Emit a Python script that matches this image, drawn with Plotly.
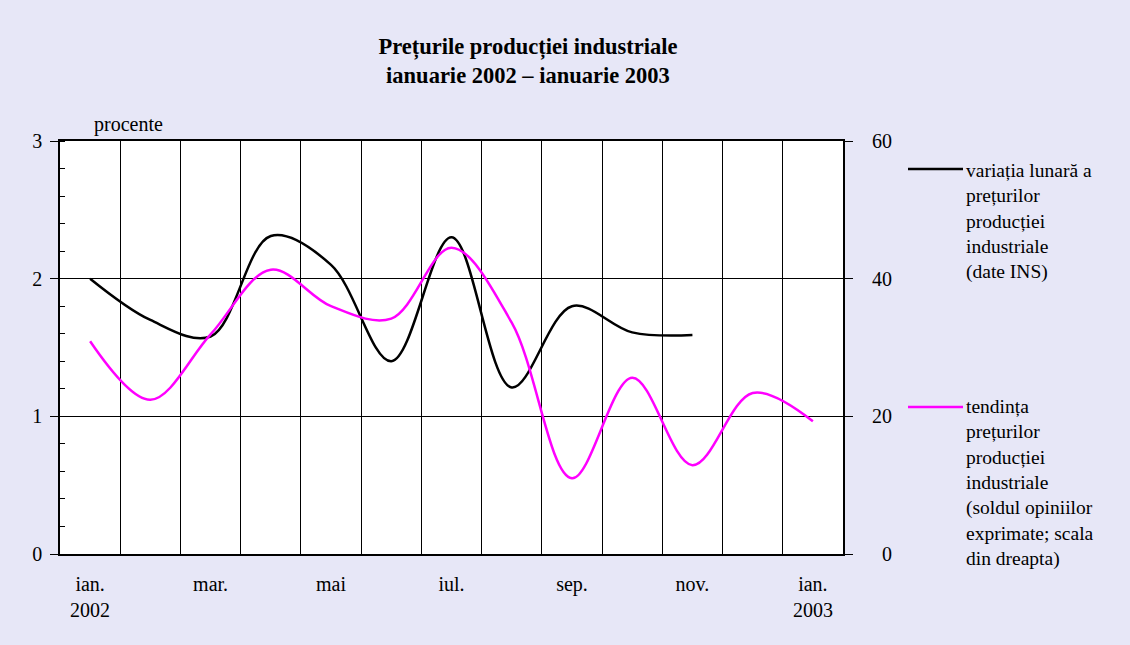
import plotly.graph_objects as go

months = ["ian.", "feb.", "mar.", "apr.", "mai", "iun.", "iul.", "aug.", "sep.", "oct.", "nov.", "dec.", "ian."]
years = {0: "2002", 12: "2003"}
variatia = [2.0, 1.70, 1.58, 2.31, 2.10, 1.40, 2.30, 1.21, 1.80, 1.61, 1.59]
tendinta = [30.9, 22.4, 31.9, 41.3, 36.0, 34.2, 44.5, 33.6, 11.0, 25.6, 12.9, 23.4, 19.3]
left_ticks = [0, 1, 2, 3]
right_ticks = [0, 20, 40, 60]
label_idx = [0, 2, 4, 6, 8, 10, 12]

FONT = "Liberation Serif"
BG = "#e7e7f7"
MAG = "#ff00ff"

x_all = list(range(len(months)))

fig = go.Figure()
fig.add_trace(go.Scatter(x=x_all[:len(variatia)], y=variatia, mode="lines",
                         line=dict(color="black", width=2.5, shape="spline", smoothing=1.0),
                         showlegend=False, yaxis="y"))
fig.add_trace(go.Scatter(x=x_all, y=tendinta, mode="lines",
                         line=dict(color=MAG, width=2.5, shape="spline", smoothing=1.0),
                         showlegend=False, yaxis="y2"))

fig.update_layout(
    width=1130, height=645,
    paper_bgcolor=BG, plot_bgcolor="white",
    margin=dict(l=60, r=287, t=141, b=91),
    font=dict(family=FONT, size=20, color="black"),
    title=dict(text="<b>Prețurile producției industriale<br>ianuarie 2002 – ianuarie 2003</b>",
               x=528 / 1130, xanchor="center", y=1 - 54 / 645, yanchor="top",
               font=dict(family=FONT, size=22.5, color="black")),
    xaxis=dict(range=[-0.5, len(months) - 0.5],
               tickmode="array", tickvals=label_idx,
               ticktext=[months[i] for i in label_idx],
               showgrid=False, zeroline=False, ticks="", ticklen=0,
               showline=True, linecolor="black", linewidth=2, mirror=True,
               tickfont=dict(size=20), ticklabelstandoff=11,
               minor=dict(tickmode="array",
                          tickvals=[i + 0.5 for i in range(-1, len(months))],
                          showgrid=True, gridcolor="black", gridwidth=1, ticks="")),
    yaxis=dict(range=[0, 3], tickmode="array", tickvals=left_ticks,
               showgrid=True, gridcolor="black", gridwidth=1, zeroline=False,
               ticks="outside", ticklen=8, tickcolor="black", tickwidth=1,
               showline=True, linecolor="black", linewidth=1.5, mirror=True,
               tickfont=dict(size=20), ticklabelstandoff=4,
               minor=dict(dtick=0.2, ticks="inside", ticklen=5, tickcolor="black", showgrid=False)),
    yaxis2=dict(range=[0, 60], overlaying="y", side="right", tickmode="array",
                tickvals=right_ticks,
                ticktext=["\u00a0\u00a0" + str(v) if v < 10 else str(v) for v in right_ticks],
                showgrid=False, zeroline=False,
                ticks="outside", ticklen=8, tickcolor="black", tickwidth=1,
                showline=True, linecolor="black", linewidth=2,
                tickfont=dict(size=20), ticklabelstandoff=15),
)

# year labels under first and last month
for i, yr in years.items():
    fig.add_annotation(x=i, y=-(610 - 554) / 413, xref="x", yref="paper", text=yr, showarrow=False,
                       font=dict(size=20), xanchor="center", yanchor="middle")

fig.add_annotation(x=(92 - 60) / 783, y=1 + (141 - 124) / 413, xref="paper", yref="paper",
                   text="procente", showarrow=False, font=dict(size=20),
                   xanchor="left", yanchor="middle")

# legend (manual)
leg_items = [
    ("black", "variația lunară a<br>prețurilor<br>producției<br>industriale<br>(date INS)", 169, 11),
    (MAG, "tendința<br>prețurilor<br>producției<br>industriale<br>(soldul opiniilor<br>exprimate; scala<br>din dreapta)", 407, 13),
]
for color, txt, ypx, off in leg_items:
    yp = 1 - (ypx - 141) / 413
    fig.add_shape(type="line", xref="paper", yref="paper",
                  x0=(908 - 60) / 783, x1=(963 - 60) / 783, y0=yp, y1=yp,
                  line=dict(color=color, width=2.5))
    fig.add_annotation(xref="paper", yref="paper", x=(964 - 60) / 783, y=yp + off / 413,
                       text=txt, showarrow=False, align="left", xanchor="left", yanchor="top",
                       font=dict(size=19.5))

fig.write_html("out.html", config={"displayModeBar": False},
               post_script="document.body.style.margin='0';")
